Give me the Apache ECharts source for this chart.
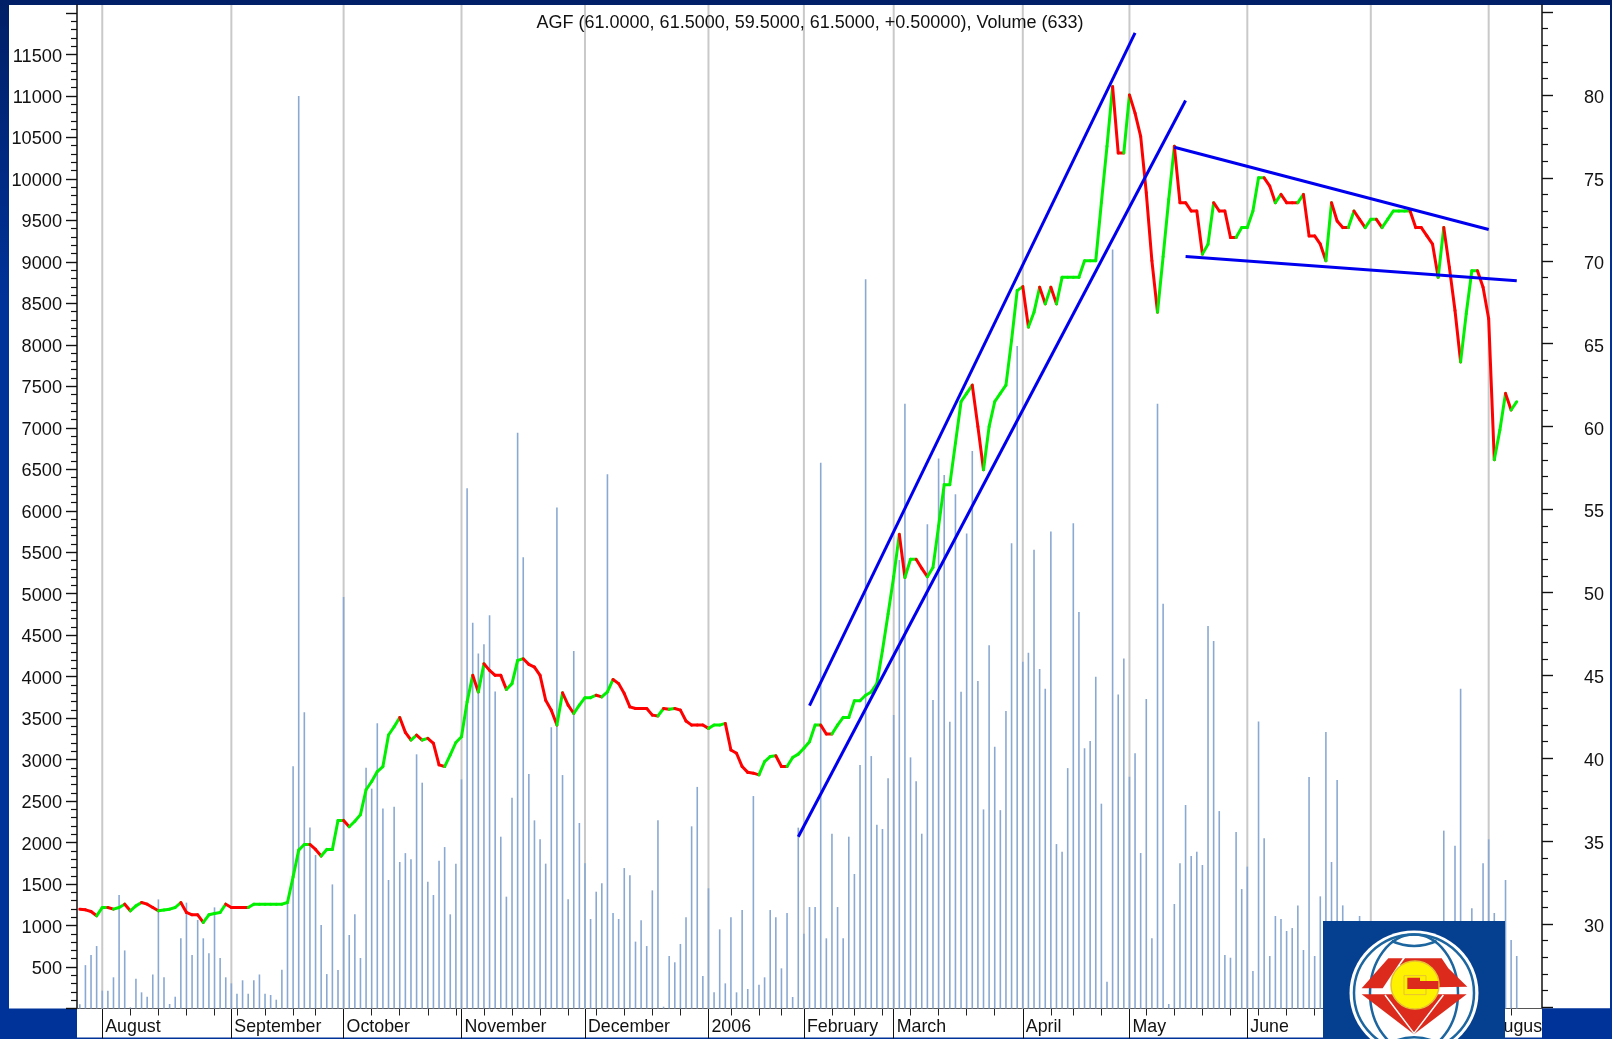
<!DOCTYPE html>
<html>
<head>
<meta charset="utf-8">
<style>html,body{margin:0;padding:0;background:#00339a}#c{width:1612px;height:1039px}</style>
<script src="https://cdn.jsdelivr.net/npm/echarts@6/dist/echarts.min.js"></script>
</head>
<body>
<div id="c"></div>
<script>
const titleText = 'AGF (61.0000, 61.5000, 59.5000, 61.5000, +0.50000), Volume (633)';
const monthIdx = [4,27,47,68,90,112,129,145,168,187,208,230,251];
const monthNames = ['August','September','October','November','December','2006','February','March','April','May','June','July','August'];
const weekTicks = [9,14,19,24,28,33,38,42,52,57,62,67,72,77,82,87,92,97,102,107,116,121,125,134,138,143,148,153,158,163,173,177,182,190,195,200,205,210,215,220,255];
const volume = [
52,523,645,753,215,215,376,1368,700,14,
360,195,142,410,1315,376,54,142,846,1276,
645,1067,846,665,1219,609,376,303,179,340,
179,340,410,179,163,106,468,1290,2920,11000,
3570,2183,1850,1006,415,1496,464,4960,886,1135,
609,2903,2650,3437,2412,1549,2432,1766,1873,1800,
3064,2722,1529,1368,1780,1946,1135,1745,2762,6270,
4650,4280,4390,4740,3820,2071,1348,2541,6940,5440,
2826,2268,2039,1746,3389,6040,2814,1316,4310,2236,
1750,1079,1408,1509,6440,1151,1079,1693,1605,806,
1063,753,1424,2268,22,633,557,778,1099,2196,
2671,392,1449,195,954,303,1099,195,1187,235,
2561,287,376,1187,1099,484,1151,139,2180,902,
1223,1223,6580,846,2107,1223,846,2071,1621,2935,
8790,3043,2216,2164,2774,3537,5406,7290,3027,2739,
2107,5836,3718,6631,6430,3457,6200,3819,5727,6719,
3947,2400,4380,3156,2391,3586,5607,7985,4180,4289,
5530,4092,3855,5750,1982,1890,2898,5850,4780,3136,
3224,4000,2469,323,9150,3786,4220,2794,3078,1874,
3731,846,7290,4880,54,1260,1750,2453,1838,1890,
1730,4610,4430,2380,645,612,2127,1440,1710,452,
3461,2051,633,1115,1079,934,970,1243,705,2790,
633,1352,3333,1766,2754,1243,900,800,1115,700,
800,600,700,500,800,600,700,500,600,800,
500,700,600,2144,800,1963,3855,700,1207,800,
1750,2039,1151,700,1549,826,633];
const price = [
30.9,30.86,30.76,30.5,31,31,30.9,31,31.2,30.8,
31.1,31.3,31.2,31,30.8,30.85,30.9,31,31.3,30.7,
30.56,30.56,30.1,30.56,30.64,30.7,31.2,31,31,31,
31,31.2,31.2,31.2,31.2,31.2,31.2,31.3,32.85,34.46,
34.8,34.8,34.5,34.1,34.5,34.5,36.25,36.25,35.87,36.2,
36.6,38.1,38.6,39.2,39.5,41.4,41.9,42.46,41.56,41.1,
41.4,41.1,41.2,40.9,39.6,39.5,40.2,40.95,41.3,43.4,
45,44,45.7,45.3,45,45,44.15,44.5,45.9,46,
45.66,45.5,45,43.5,42.9,42,43.95,43.2,42.7,43.2,
43.65,43.65,43.8,43.7,44,44.75,44.5,43.9,43.1,43,
43,43,42.6,42.55,43,42.95,43,42.9,42.25,42,
42,42,41.8,42,42,42.1,40.5,40.3,39.5,39.15,
39.1,39,39.8,40.1,40.15,39.5,39.5,40.05,40.25,40.6,
41,42,42,41.46,41.46,42,42.46,42.46,43.47,43.47,
43.8,44,44.5,46.5,48.7,50.95,53.5,50.9,52,52,
51.45,50.95,51.5,54,56.5,56.5,59,61.5,62,62.5,
60,57.4,60,61.5,62,62.5,65.2,68.2,68.44,66,
66.9,68.4,67.4,68.4,67.4,69,69,69,69,70,
70,70,73.5,76.9,80.5,76.5,76.5,80,78.9,77.5,
74.1,70,66.9,70.25,73.7,76.9,73.5,73.5,73,73,
70.4,71,73.5,73,73,71.4,71.4,72,72,73,
75,75,74.5,73.5,74,73.5,73.5,73.5,74,71.5,
71.5,71,70,73.5,72.4,72,72,73,72.5,72,
72.5,72.5,72,72.5,73,73,73,73,72,72,
71.5,71,69,72,69.6,67,63.9,66.8,69.4,69.4,
68.4,66.5,58,59.8,62,61,61.5];
const trendA = [[130,43.17],[188,83.74]];
const trendB = [[128,35.27],[197,79.66]];
const trendC = [[195,76.84],[251,71.88]];
const trendD = [[197,70.25],[256,68.8]];

const FONT = 'Liberation Sans';
const SLOTS = 261;
const cats = Array.from({length:SLOTS},(_,i)=>String(i));
const GL = 77, GW = 1465;
const chart = echarts.init(document.getElementById('c'),null,{renderer:'canvas'});

function lx(X){return 1320+X/3} function ly(Y){return 915+Y/3}
function P(a){return a.map(p=>[lx(p[0]),ly(p[1])])}
const logoBlue='#04408f', ringBlue='#1c659f', gemRed='#dc2a1c';
const topZ=100;
const graphics=[
 {type:'rect',z:-5,shape:{x:9,y:5,width:1601,height:1003.5},style:{fill:'#fff'}},
 {type:'rect',z:-5,shape:{x:77,y:1008,width:1465,height:29.5},style:{fill:'#fff'}},
 {type:'rect',z:topZ,shape:{x:1542.5,y:1008.5,width:69.5,height:30.5},style:{fill:'#00339a'}},
 {type:'rect',z:topZ,shape:{x:1323,y:921,width:182,height:118},style:{fill:logoBlue}},
 {type:'ellipse',z:topZ,shape:{cx:1414,cy:993,rx:64.5,ry:62.5},style:{fill:'#fff'}},
 {type:'ellipse',z:topZ,shape:{cx:1414,cy:993,rx:60,ry:58.5},style:{fill:'none',stroke:ringBlue,lineWidth:2.5}},
 {type:'ellipse',z:topZ,shape:{cx:1414,cy:993,rx:44,ry:58.5},style:{fill:'none',stroke:ringBlue,lineWidth:2.5}},
 {type:'bezierCurve',z:topZ,shape:{x1:lx(215),y1:ly(78),cpx1:lx(282),cpy1:ly(108),x2:lx(350),y2:ly(78)},style:{fill:'none',stroke:ringBlue,lineWidth:2.5}},
 {type:'bezierCurve',z:topZ,shape:{x1:lx(225),y1:ly(378),cpx1:lx(282),cpy1:ly(355),x2:lx(340),y2:ly(378)},style:{fill:'none',stroke:ringBlue,lineWidth:2.5}},
 {type:'polygon',z:topZ,shape:{points:P([[125,220],[205,130],[248,130],[188,220]])},style:{fill:gemRed}},
 {type:'polygon',z:topZ,shape:{points:P([[255,130],[365,130],[385,160],[442,215],[240,218],[240,150]])},style:{fill:gemRed}},
 {type:'polygon',z:topZ,shape:{points:P([[125,238],[440,238],[282,358]])},style:{fill:gemRed}},
 {type:'polyline',z:topZ,shape:{points:P([[195,240],[282,355],[370,240]])},style:{fill:'none',stroke:'#fff',lineWidth:1.5}},
 {type:'circle',z:topZ,shape:{cx:1415,cy:985,r:24},style:{fill:'#fff200',stroke:'#e6c230',lineWidth:1.5}},
 {type:'rect',z:topZ,shape:{x:lx(252),y:ly(182),width:22,height:19},style:{fill:'none',stroke:'#e6c230',lineWidth:1}},
 {type:'polygon',z:topZ,shape:{points:P([[262,188],[300,188],[300,198],[355,198],[355,222],[262,222]])},style:{fill:gemRed}}
];

const hiddenX=(g)=>({type:'category',gridIndex:g,data:cats,boundaryGap:true,show:false});
const option={
 animation:false,
 backgroundColor:new echarts.graphic.LinearGradient(0,0,0,1,[{offset:0,color:'#001f66'},{offset:0.3,color:'#00339a'},{offset:1,color:'#00339a'}]),
 textStyle:{fontFamily:FONT},
 title:{text:titleText,left:805,top:9,textAlign:'center',textStyle:{fontFamily:FONT,fontSize:18,fontWeight:'normal',color:'#111'}},
 graphic:{elements:graphics},
 grid:[
  {left:GL,width:GW,top:13,height:995.5,containLabel:false},
  {left:GL,width:GW,top:12,height:995,containLabel:false},
  {left:GL,width:GW,top:5,height:1003.5,containLabel:false},
  {left:GL,width:GW,top:15,height:995.5,containLabel:false},
  {left:GL,width:GW,top:15,height:995,containLabel:false}
 ],
 xAxis:[
  {type:'category',gridIndex:0,data:cats,boundaryGap:true,axisLine:{show:false},
   axisTick:{show:true,alignWithLabel:true,length:7,interval:(i)=>weekTicks.includes(i),lineStyle:{color:'#222',width:1}},
   axisLabel:{show:false},splitLine:{show:false}},
  hiddenX(1),
  {type:'category',gridIndex:2,data:cats,boundaryGap:true,
   axisLine:{show:true,lineStyle:{color:'#555',width:1}},
   axisTick:{show:true,alignWithLabel:true,length:30,interval:(i)=>monthIdx.includes(i),lineStyle:{color:'#111',width:1}},
   axisLabel:{show:true,interval:(i)=>monthIdx.includes(i),align:'left',padding:[0,0,0,3],margin:10,fontFamily:FONT,fontSize:17.8,color:'#111',
     hideOverlap:false,
     formatter:(v)=>{const k=monthIdx.indexOf(+v);return k<0?'':monthNames[k];}},
   splitLine:{show:false}},
  hiddenX(3),
  hiddenX(4)
 ],
 yAxis:[
  {type:'value',gridIndex:0,position:'left',min:0,max:12000,interval:500,
   axisLine:{show:false},
   axisTick:{show:true,length:11,lineStyle:{color:'#111',width:1.4}},
   minorTick:{show:true,splitNumber:5,length:6,lineStyle:{color:'#111',width:1.2}},
   axisLabel:{show:false},
   splitLine:{show:false}},
  {type:'value',gridIndex:1,position:'right',min:25,max:85,interval:5,
   axisLine:{show:false},
   axisTick:{show:true,length:11,lineStyle:{color:'#111',width:1.4}},
   minorTick:{show:true,splitNumber:5,length:6,lineStyle:{color:'#111',width:1.2}},
   axisLabel:{show:false},
   splitLine:{show:false}},
  {type:'value',gridIndex:2,position:'left',min:0,max:1,axisLine:{show:true,lineStyle:{color:'#111',width:1.5}},axisTick:{show:false},axisLabel:{show:false},splitLine:{show:false}},
  {type:'value',gridIndex:2,position:'right',min:0,max:1,axisLine:{show:true,lineStyle:{color:'#111',width:1.5}},axisTick:{show:false},axisLabel:{show:false},splitLine:{show:false}},
  {type:'value',gridIndex:3,position:'left',min:0,max:12000,interval:500,axisLine:{show:false},axisTick:{show:false},splitLine:{show:false},
   axisLabel:{show:true,margin:15,fontFamily:FONT,fontSize:18.2,color:'#111',formatter:(v)=>(v===0||v===12000)?'':String(v)}},
  {type:'value',gridIndex:4,position:'right',min:25,max:85,interval:5,axisLine:{show:false},axisTick:{show:false},splitLine:{show:false},
   axisLabel:{show:true,margin:42,fontFamily:FONT,fontSize:18,color:'#111',formatter:(v)=>(v===25||v===85)?'':String(v)}}
 ],
 series:[
  {name:'Months',type:'bar',xAxisIndex:2,yAxisIndex:2,z:1,barWidth:2,silent:true,
   data:monthIdx.map(i=>[i,1]),itemStyle:{color:'#c9c9c9'}},
  {name:'Volume',type:'bar',xAxisIndex:0,yAxisIndex:0,z:2,barWidth:1.6,silent:true,
   data:volume,itemStyle:{color:'#8aa9d2'}},
  {name:'AGF',type:'custom',xAxisIndex:1,yAxisIndex:1,z:3,silent:true,clip:false,
   encode:{x:0,y:1},
   data:price.slice(0,-1).map((v,i)=>[i,v]),
   renderItem:(params,api)=>{
     const i=params.dataIndex;
     let up=true;
     for(let k=i;k>=0;k--){ if(price[k+1]!==price[k]){up=price[k+1]>price[k];break;} }
     const a=api.coord([i,price[i]]), b=api.coord([i+1,price[i+1]]);
     return {type:'line',shape:{x1:a[0],y1:a[1],x2:b[0],y2:b[1]},
       style:{stroke:up?'#00f000':'#ff0000',lineWidth:3,lineCap:'round',fill:null}};
   }},
  ...[trendA,trendB,trendC,trendD].map((t,k)=>({name:'Trend'+k,type:'line',xAxisIndex:1,yAxisIndex:1,z:4,silent:true,
     data:t,showSymbol:false,symbol:'none',lineStyle:{color:'#0000ee',width:3},clip:false}))
 ]
};
chart.setOption(option);
</script>
</body>
</html>
